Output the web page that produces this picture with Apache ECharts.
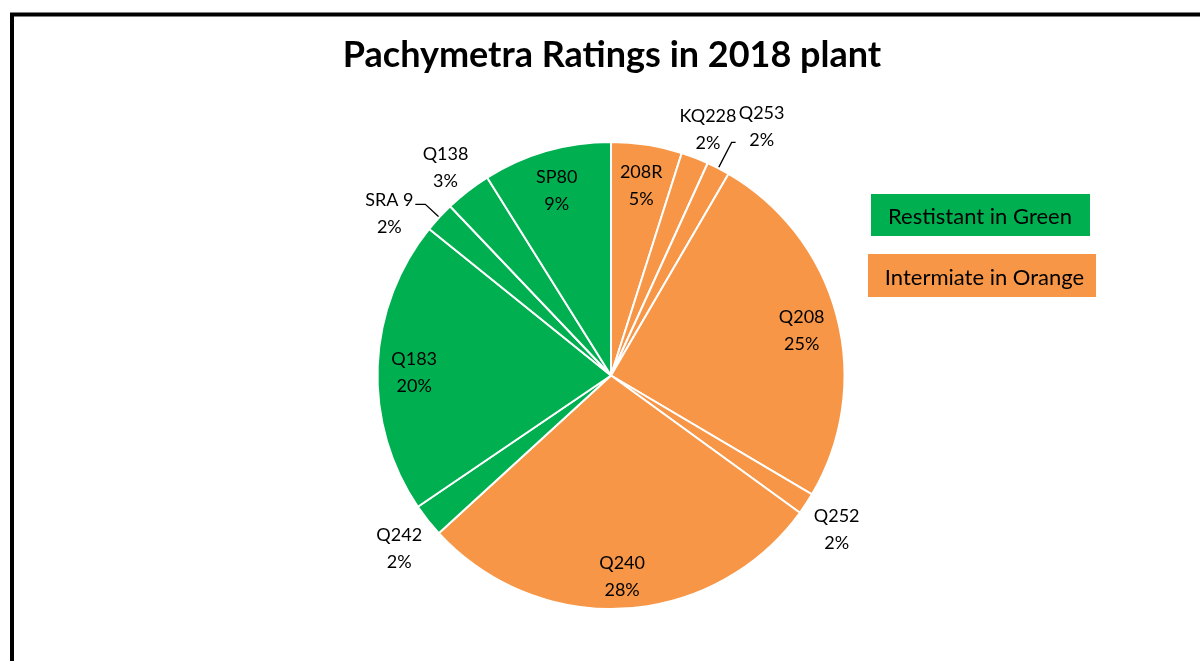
<!DOCTYPE html>
<html>
<head>
<meta charset="utf-8">
<title>Pachymetra Ratings in 2018 plant</title>
<script src="https://cdn.jsdelivr.net/npm/echarts@6/dist/echarts.min.js"></script>
<style>
html, body { margin: 0; padding: 0; background: #fff; }
#chart { width: 1200px; height: 661px; }
</style>
</head>
<body>
<div id="chart"></div>
<script>
// varieties clockwise from 12 o'clock, share of plant (%), rating group
var varieties = ['208R', 'KQ228', 'Q253', 'Q208', 'Q252', 'Q240', 'Q242', 'Q183', 'SRA 9', 'Q138', 'SP80'];
var shares = [4.9, 1.9, 1.6, 25.1, 1.5, 28.2, 2.3, 20.3, 2.1, 3.2, 8.9];
var ratings = ['I', 'I', 'I', 'I', 'I', 'I', 'R', 'R', 'R', 'R', 'R'];

// which labels go inside the slice / get a leader line
var insideNames = ['208R', 'Q208', 'Q240', 'Q183', 'SP80'];
var leaderNames = ['Q253', 'SRA 9'];

var ratingColor = { R: '#00B050', I: '#F79646' };
var font = 'Lato, Carlito, Calibri, sans-serif';
var center = [611, 375.5];
var R = 233.5;

function pctText(p) {
    return Math.round(p.percent) + '%';
}

// 同一份数据，按需要显示标签
function makeData(showFn, extra) {
    return varieties.map(function (name, i) {
        var item = {
            name: name,
            value: shares[i],
            itemStyle: { color: ratingColor[ratings[i]] },
            label: { show: showFn(name) }
        };
        if (extra) extra(item, name);
        return item;
    });
}

function clearItem(item) {
    item.itemStyle = { color: 'rgba(0,0,0,0)' };
}

var labelText = {
    color: '#000',
    fontFamily: font,
    fontSize: 18,
    lineHeight: 27
};

var chart = echarts.init(document.getElementById('chart'));

var option = {
    animation: false,
    title: {
        text: 'Pachymetra Ratings in 2018 plant',
        left: 607,
        top: 32,
        textAlign: 'center',
        textStyle: {
            fontFamily: font,
            fontWeight: 'bold',
            fontSize: 36,
            color: '#000'
        }
    },
    series: [
        {
            // 饼图本体
            type: 'pie',
            center: center,
            radius: R,
            startAngle: 90,
            clockwise: true,
            percentPrecision: 1,
            avoidLabelOverlap: false,
            silent: true,
            itemStyle: { borderColor: '#fff', borderWidth: 2 },
            label: {
                position: 'outside',
                distanceToLabelLine: 2,
                formatter: function (p) {
                    return '{t|' + p.name + '}\n{t|' + pctText(p) + '}';
                },
                rich: {
                    t: {
                        width: 48, align: 'center',
                        color: '#000', fontFamily: font, fontSize: 18, lineHeight: 27
                    }
                }
            },
            labelLine: {
                show: false,
                length: 28,
                length2: 4,
                lineStyle: { color: '#000', width: 1.3 }
            },
            data: makeData(function (n) { return leaderNames.indexOf(n) >= 0; }, function (item, n) {
                if (n === 'Q253') {
                    item.labelLine = { show: true, length: 29, length2: 4 };
                    item.label.padding = [0, 0, 32, 0];
                }
                if (n === 'SRA 9') {
                    item.labelLine = { show: true, length: 19, length2: 10 };
                    item.label.padding = [18, 0, 0, 0];
                }
            })
        },
        {
            // 内部标签（透明环，只负责摆放文字）
            type: 'pie',
            center: [center[0], center[1] + 5],
            radius: [154.5, R],
            percentPrecision: 1,
            silent: true,
            itemStyle: { color: 'rgba(0,0,0,0)', borderWidth: 0 },
            label: Object.assign({
                position: 'inside',
                formatter: function (p) { return p.name + '\n' + pctText(p); }
            }, labelText),
            data: makeData(function (n) { return insideNames.indexOf(n) >= 0; }, clearItem)
        },
        {
            // 外部标签（无引线）
            type: 'pie',
            center: [center[0], center[1] + 6],
            radius: [242, 292],
            percentPrecision: 1,
            silent: true,
            itemStyle: { color: 'rgba(0,0,0,0)', borderWidth: 0 },
            label: Object.assign({
                position: 'inside',
                formatter: function (p) { return p.name + '\n' + pctText(p); }
            }, labelText),
            data: makeData(function (n) {
                return insideNames.indexOf(n) < 0 && leaderNames.indexOf(n) < 0;
            }, clearItem)
        }
    ],
    graphic: [
        {
            type: 'rect',
            silent: true,
            shape: { x: 12, y: 14.5, width: 1300, height: 800 },
            style: { fill: 'none', stroke: '#000', lineWidth: 4 }
        },
        {
            type: 'rect',
            silent: true,
            shape: { x: 871, y: 194, width: 219, height: 42 },
            style: { fill: ratingColor.R }
        },
        {
            type: 'text',
            silent: true,
            x: 980, y: 217,
            style: {
                text: 'Restistant in Green', fill: '#000',
                fontFamily: font, fontSize: 22,
                align: 'center', verticalAlign: 'middle'
            }
        },
        {
            type: 'rect',
            silent: true,
            shape: { x: 868, y: 254, width: 228, height: 43 },
            style: { fill: ratingColor.I }
        },
        {
            type: 'text',
            silent: true,
            x: 984.5, y: 278,
            style: {
                text: 'Intermiate in Orange', fill: '#000',
                fontFamily: font, fontSize: 22,
                align: 'center', verticalAlign: 'middle'
            }
        }
    ]
};

chart.setOption(option);
window.onresize = chart.resize;
</script>
</body>
</html>
